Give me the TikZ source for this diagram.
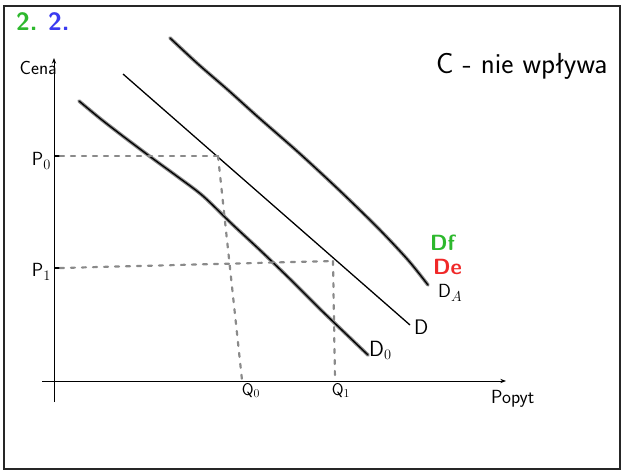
\documentclass[tikz,border=0pt]{standalone}
\usepackage{fontspec}
\usetikzlibrary{positioning,arrows.meta,calc}
\definecolor{cgreen}{HTML}{2DB82D}
\definecolor{cblue}{HTML}{3A3AF0}
\definecolor{cred}{HTML}{F02828}
\definecolor{cgray}{HTML}{8A8A8A}

\begin{document}
\begin{tikzpicture}[x=1pt, y=-1pt,
  hand/.style={font=\sffamily\fontsize{19}{19}\selectfont, inner sep=1pt},
  axis/.style={-{Stealth[length=2mm]}, line width=0.9pt},
  curvehalo/.style={line width=3.6pt, cgray, line cap=round, line join=round},
  curvecore/.style={line width=1.3pt, black, line cap=round, line join=round},
  guide/.style={line width=2.2pt, cgray, dash pattern=on 4pt off 7pt, line cap=round},
  tick/.style={line width=1.2pt}
]
\useasboundingbox (0,0) rectangle (623,471);

% --- frame ---
\draw[line width=2pt, black!85] (4,6) rectangle (620,469);

% --- title ---
\node[hand, text=cgreen, anchor=west, font=\sffamily\bfseries\fontsize{25}{25}\selectfont] (t1) at (15,22) {2.};
\node[hand, text=cblue, anchor=west, font=\sffamily\bfseries\fontsize{25}{25}\selectfont, right=8pt of t1] (t2) {2.};
\node[hand, anchor=west, font=\sffamily\fontsize{29}{29}\selectfont] (note) at (435,66) {C - nie wpływa};

% --- axes ---
\coordinate (ybot) at (54,402);
\coordinate (ytop) at (54,58);
\coordinate (xleft) at (42,381);
\coordinate (xright) at (506,381);
\draw[axis] (ybot) -- (ytop);
\draw[axis] (xleft) -- (xright);
\node[hand, anchor=east] (cena) at (58,68) {Cena};
\node[hand, anchor=west] (popyt) at (490,399) {Popyt};

% --- demand curves ---
\foreach \st in {curvehalo,curvecore}{
  \draw[\st] plot[smooth] coordinates {(79,101) (102,120) (128,140) (152,158) (178,177) (203,196)
     (232,224) (262,252) (292,281) (320,309) (345,333) (368,355)};
  \draw[\st] plot[smooth] coordinates {(170,38) (198,64) (228,90) (258,117) (298,152) (338,189)
     (378,228) (408,260) (428,285)};
}
\coordinate (dtop) at (123,74);
\coordinate (dbot) at (410,325);
\draw[line width=1.3pt] (dtop) -- (dbot);

\node[hand, anchor=west, font=\sffamily\fontsize{22}{22}\selectfont] (lD0) at (368,350) {D$_0$};
\node[hand, anchor=west, font=\sffamily\fontsize{21}{21}\selectfont] (lD) at (413,327) {D};
\node[hand, anchor=west] (lDA) at (437,293) {D$_A$};
\node[hand, anchor=west, text=cred, font=\sffamily\bfseries\fontsize{22}{22}\selectfont] (lDe) at (432,267) {De};
\node[hand, anchor=west, text=cgreen, font=\sffamily\bfseries\fontsize{22}{22}\selectfont] (lDf) at (429,243) {Df};

% --- price and quantity guides ---
\coordinate (p0) at (60,156);
\coordinate (e0) at (218,156);
\coordinate (q0) at (242,380);
\coordinate (p1) at (60,268);
\coordinate (e1) at (333,261);
\coordinate (q1) at (335,380);
\draw[tick] (54,156) -- (p0);
\draw[tick] (54,268) -- (p1);
\draw[guide] (p0) -- (e0);
\draw[guide] (e0) -- (q0);
\draw[guide] (p1) -- (e1);
\draw[guide] (e1) -- (q1);

\node[hand, anchor=east] (lP0) at (52,161) {P$_0$};
\node[hand, anchor=east] (lP1) at (52,272) {P$_1$};
\node[hand, anchor=north, font=\sffamily\fontsize{17}{17}\selectfont] (lQ0) at (251,382) {Q$_0$};
\node[hand, anchor=north, font=\sffamily\fontsize{17}{17}\selectfont] (lQ1) at (341,382) {Q$_1$};
\end{tikzpicture}
\end{document}
